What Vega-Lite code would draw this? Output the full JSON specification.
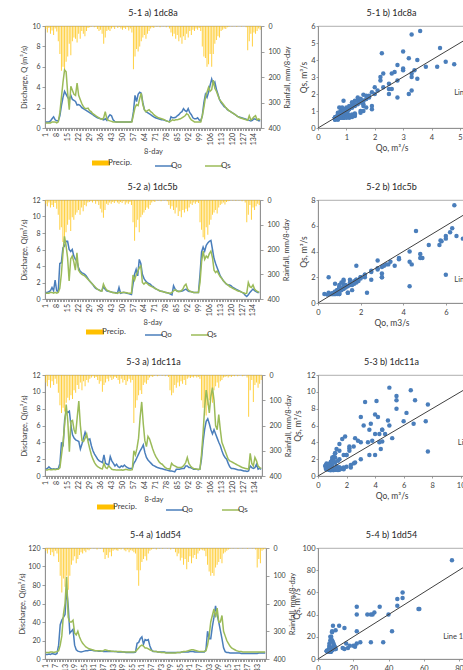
{
"$schema":"https://vega.github.io/schema/vega-lite/v6.json",
"background":"white",
"padding":{"left":17,"top":8,"right":0,"bottom":0},
"datasets":{
"d1":[{"t":1,"P":12,"Qo":0.6,"Qs":0.5},{"t":2,"P":25,"Qo":0.6,"Qs":0.5},{"t":3,"P":8,"Qo":0.6,"Qs":0.5},{"t":4,"P":30,"Qo":0.7,"Qs":0.5},{"t":5,"P":18,"Qo":0.9,"Qs":0.6},{"t":6,"P":35,"Qo":1.1,"Qs":0.6},{"t":7,"P":10,"Qo":0.8,"Qs":0.6},{"t":8,"P":22,"Qo":0.7,"Qs":0.5},{"t":9,"P":60,"Qo":0.7,"Qs":0.6},{"t":10,"P":110,"Qo":1.2,"Qs":1.5},{"t":11,"P":175,"Qo":2.2,"Qs":3.0},{"t":12,"P":160,"Qo":3.0,"Qs":4.5},{"t":13,"P":170,"Qo":3.6,"Qs":5.7},{"t":14,"P":140,"Qo":3.3,"Qs":5.5},{"t":15,"P":120,"Qo":3.0,"Qs":3.4},{"t":16,"P":70,"Qo":2.8,"Qs":1.8},{"t":17,"P":115,"Qo":3.2,"Qs":4.1},{"t":18,"P":60,"Qo":2.8,"Qs":3.7},{"t":19,"P":45,"Qo":2.7,"Qs":3.3},{"t":20,"P":50,"Qo":2.6,"Qs":3.2},{"t":21,"P":65,"Qo":2.25,"Qs":4.4},{"t":22,"P":30,"Qo":2.3,"Qs":3.2},{"t":23,"P":50,"Qo":2.2,"Qs":2.8},{"t":24,"P":20,"Qo":2.0,"Qs":2.4},{"t":25,"P":30,"Qo":1.9,"Qs":2.1},{"t":26,"P":40,"Qo":1.8,"Qs":1.9},{"t":27,"P":20,"Qo":1.7,"Qs":1.9},{"t":28,"P":8,"Qo":1.6,"Qs":1.95},{"t":29,"P":5,"Qo":1.5,"Qs":1.7},{"t":30,"P":3,"Qo":1.4,"Qs":1.6},{"t":31,"P":0,"Qo":1.3,"Qs":1.4},{"t":32,"P":5,"Qo":1.2,"Qs":1.3},{"t":33,"P":2,"Qo":1.1,"Qs":1.2},{"t":34,"P":12,"Qo":1.0,"Qs":1.1},{"t":35,"P":20,"Qo":0.95,"Qs":1.0},{"t":36,"P":15,"Qo":0.9,"Qs":0.9},{"t":37,"P":30,"Qo":0.85,"Qs":0.85},{"t":38,"P":70,"Qo":0.8,"Qs":1.0},{"t":39,"P":45,"Qo":0.9,"Qs":1.6},{"t":40,"P":20,"Qo":0.75,"Qs":0.9},{"t":41,"P":15,"Qo":1.1,"Qs":0.75},{"t":42,"P":20,"Qo":1.3,"Qs":0.7},{"t":43,"P":10,"Qo":1.2,"Qs":0.65},{"t":44,"P":5,"Qo":0.8,"Qs":0.6},{"t":45,"P":12,"Qo":0.65,"Qs":0.6},{"t":46,"P":0,"Qo":0.6,"Qs":0.6},{"t":47,"P":8,"Qo":0.6,"Qs":0.6},{"t":48,"P":3,"Qo":0.6,"Qs":0.6},{"t":49,"P":10,"Qo":0.6,"Qs":0.6},{"t":50,"P":15,"Qo":0.6,"Qs":0.6},{"t":51,"P":8,"Qo":0.6,"Qs":0.6},{"t":52,"P":12,"Qo":0.6,"Qs":0.6},{"t":53,"P":5,"Qo":0.6,"Qs":0.6},{"t":54,"P":18,"Qo":0.6,"Qs":0.6},{"t":55,"P":10,"Qo":0.6,"Qs":0.6},{"t":56,"P":25,"Qo":0.65,"Qs":0.6},{"t":57,"P":170,"Qo":1.6,"Qs":1.3},{"t":58,"P":120,"Qo":3.2,"Qs":2.0},{"t":59,"P":90,"Qo":2.6,"Qs":2.3},{"t":60,"P":100,"Qo":3.3,"Qs":2.2},{"t":61,"P":80,"Qo":3.5,"Qs":2.9},{"t":62,"P":60,"Qo":3.4,"Qs":3.4},{"t":63,"P":45,"Qo":2.5,"Qs":2.3},{"t":64,"P":35,"Qo":1.8,"Qs":1.8},{"t":65,"P":50,"Qo":1.6,"Qs":1.6},{"t":66,"P":30,"Qo":1.5,"Qs":1.7},{"t":67,"P":20,"Qo":1.4,"Qs":1.8},{"t":68,"P":10,"Qo":1.3,"Qs":1.6},{"t":69,"P":5,"Qo":1.2,"Qs":1.5},{"t":70,"P":8,"Qo":1.1,"Qs":1.3},{"t":71,"P":0,"Qo":1.0,"Qs":1.2},{"t":72,"P":3,"Qo":0.95,"Qs":1.1},{"t":73,"P":0,"Qo":0.9,"Qs":1.0},{"t":74,"P":5,"Qo":0.85,"Qs":0.95},{"t":75,"P":0,"Qo":0.8,"Qs":0.9},{"t":76,"P":2,"Qo":0.8,"Qs":0.85},{"t":77,"P":0,"Qo":0.75,"Qs":0.8},{"t":78,"P":5,"Qo":0.7,"Qs":0.7},{"t":79,"P":0,"Qo":0.65,"Qs":0.65},{"t":80,"P":10,"Qo":0.6,"Qs":0.6},{"t":81,"P":25,"Qo":1.1,"Qs":0.7},{"t":82,"P":40,"Qo":1.0,"Qs":0.8},{"t":83,"P":30,"Qo":1.0,"Qs":0.75},{"t":84,"P":50,"Qo":1.05,"Qs":0.8},{"t":85,"P":35,"Qo":1.2,"Qs":0.8},{"t":86,"P":60,"Qo":1.3,"Qs":0.85},{"t":87,"P":45,"Qo":1.5,"Qs":0.9},{"t":88,"P":70,"Qo":1.6,"Qs":1.0},{"t":89,"P":40,"Qo":1.9,"Qs":1.1},{"t":90,"P":55,"Qo":1.7,"Qs":1.2},{"t":91,"P":30,"Qo":1.6,"Qs":1.4},{"t":92,"P":45,"Qo":1.9,"Qs":1.3},{"t":93,"P":20,"Qo":1.5,"Qs":1.0},{"t":94,"P":35,"Qo":1.3,"Qs":0.8},{"t":95,"P":15,"Qo":1.0,"Qs":0.7},{"t":96,"P":20,"Qo":0.9,"Qs":0.6},{"t":97,"P":10,"Qo":0.9,"Qs":0.6},{"t":98,"P":15,"Qo":1.0,"Qs":0.6},{"t":99,"P":8,"Qo":0.8,"Qs":0.6},{"t":100,"P":20,"Qo":0.7,"Qs":0.6},{"t":101,"P":80,"Qo":1.2,"Qs":1.2},{"t":102,"P":120,"Qo":2.5,"Qs":2.0},{"t":103,"P":125,"Qo":3.3,"Qs":3.0},{"t":104,"P":160,"Qo":3.0,"Qs":3.5},{"t":105,"P":150,"Qo":3.5,"Qs":4.0},{"t":106,"P":110,"Qo":4.2,"Qs":3.6},{"t":107,"P":160,"Qo":4.8,"Qs":3.75},{"t":108,"P":110,"Qo":4.3,"Qs":4.7},{"t":109,"P":70,"Qo":4.5,"Qs":3.9},{"t":110,"P":55,"Qo":3.8,"Qs":3.6},{"t":111,"P":40,"Qo":3.3,"Qs":3.2},{"t":112,"P":45,"Qo":2.8,"Qs":2.8},{"t":113,"P":20,"Qo":2.5,"Qs":2.6},{"t":114,"P":15,"Qo":2.3,"Qs":2.4},{"t":115,"P":10,"Qo":2.1,"Qs":2.2},{"t":116,"P":12,"Qo":2.0,"Qs":2.0},{"t":117,"P":5,"Qo":1.8,"Qs":1.85},{"t":118,"P":3,"Qo":1.7,"Qs":1.7},{"t":119,"P":0,"Qo":1.6,"Qs":1.6},{"t":120,"P":2,"Qo":1.5,"Qs":1.5},{"t":121,"P":0,"Qo":1.4,"Qs":1.4},{"t":122,"P":0,"Qo":1.3,"Qs":1.3},{"t":123,"P":3,"Qo":1.2,"Qs":1.2},{"t":124,"P":0,"Qo":1.1,"Qs":1.1},{"t":125,"P":0,"Qo":1.05,"Qs":1.0},{"t":126,"P":2,"Qo":1.0,"Qs":0.95},{"t":127,"P":0,"Qo":0.95,"Qs":0.9},{"t":128,"P":0,"Qo":0.9,"Qs":0.85},{"t":129,"P":5,"Qo":0.85,"Qs":0.8},{"t":130,"P":95,"Qo":0.8,"Qs":0.75},{"t":131,"P":60,"Qo":0.75,"Qs":1.2},{"t":132,"P":30,"Qo":0.7,"Qs":0.8},{"t":133,"P":80,"Qo":0.75,"Qs":0.9},{"t":134,"P":25,"Qo":0.9,"Qs":1.1},{"t":135,"P":30,"Qo":0.85,"Qs":1.2},{"t":136,"P":20,"Qo":0.8,"Qs":0.8},{"t":137,"P":10,"Qo":0.7,"Qs":0.9},{"t":138,"P":15,"Qo":0.7,"Qs":0.8}],
"d2":[{"t":1,"P":15,"Qo":0.8,"Qs":0.7},{"t":2,"P":25,"Qo":0.8,"Qs":0.7},{"t":3,"P":10,"Qo":0.9,"Qs":0.7},{"t":4,"P":30,"Qo":1.0,"Qs":0.8},{"t":5,"P":20,"Qo":1.4,"Qs":0.8},{"t":6,"P":28,"Qo":1.0,"Qs":0.7},{"t":7,"P":12,"Qo":2.3,"Qs":0.8},{"t":8,"P":35,"Qo":1.0,"Qs":0.7},{"t":9,"P":60,"Qo":0.9,"Qs":0.8},{"t":10,"P":120,"Qo":4.3,"Qs":1.3},{"t":11,"P":110,"Qo":4.4,"Qs":3.0},{"t":12,"P":170,"Qo":6.2,"Qs":5.5},{"t":13,"P":160,"Qo":6.4,"Qs":7.6},{"t":14,"P":130,"Qo":7.0,"Qs":6.5},{"t":15,"P":100,"Qo":7.0,"Qs":5.0},{"t":16,"P":80,"Qo":6.0,"Qs":2.2},{"t":17,"P":125,"Qo":5.75,"Qs":4.85},{"t":18,"P":70,"Qo":6.0,"Qs":5.2},{"t":19,"P":80,"Qo":5.2,"Qs":4.5},{"t":20,"P":60,"Qo":4.8,"Qs":3.5},{"t":21,"P":50,"Qo":4.6,"Qs":5.6},{"t":22,"P":40,"Qo":3.8,"Qs":3.5},{"t":23,"P":60,"Qo":3.4,"Qs":3.2},{"t":24,"P":30,"Qo":3.2,"Qs":3.0},{"t":25,"P":45,"Qo":3.1,"Qs":2.9},{"t":26,"P":20,"Qo":3.0,"Qs":2.8},{"t":27,"P":25,"Qo":2.8,"Qs":2.6},{"t":28,"P":10,"Qo":2.5,"Qs":2.4},{"t":29,"P":8,"Qo":2.2,"Qs":2.2},{"t":30,"P":5,"Qo":2.0,"Qs":2.0},{"t":31,"P":10,"Qo":1.8,"Qs":1.8},{"t":32,"P":3,"Qo":1.5,"Qs":1.6},{"t":33,"P":15,"Qo":1.3,"Qs":1.4},{"t":34,"P":5,"Qo":1.2,"Qs":1.2},{"t":35,"P":20,"Qo":1.1,"Qs":1.1},{"t":36,"P":35,"Qo":1.0,"Qs":1.0},{"t":37,"P":50,"Qo":1.0,"Qs":0.95},{"t":38,"P":72,"Qo":1.5,"Qs":1.8},{"t":39,"P":40,"Qo":1.2,"Qs":1.4},{"t":40,"P":15,"Qo":1.0,"Qs":1.1},{"t":41,"P":20,"Qo":0.95,"Qs":1.0},{"t":42,"P":10,"Qo":0.9,"Qs":0.9},{"t":43,"P":15,"Qo":0.85,"Qs":0.85},{"t":44,"P":8,"Qo":0.8,"Qs":0.8},{"t":45,"P":12,"Qo":0.8,"Qs":0.75},{"t":46,"P":5,"Qo":0.75,"Qs":0.7},{"t":47,"P":10,"Qo":0.7,"Qs":0.7},{"t":48,"P":15,"Qo":1.4,"Qs":0.8},{"t":49,"P":8,"Qo":0.7,"Qs":0.75},{"t":50,"P":12,"Qo":0.75,"Qs":0.8},{"t":51,"P":5,"Qo":0.8,"Qs":0.8},{"t":52,"P":18,"Qo":0.75,"Qs":0.8},{"t":53,"P":10,"Qo":0.7,"Qs":0.75},{"t":54,"P":15,"Qo":0.65,"Qs":0.7},{"t":55,"P":8,"Qo":0.6,"Qs":0.7},{"t":56,"P":20,"Qo":0.55,"Qs":0.7},{"t":57,"P":90,"Qo":1.8,"Qs":2.9},{"t":58,"P":165,"Qo":3.0,"Qs":2.3},{"t":59,"P":110,"Qo":3.6,"Qs":2.9},{"t":60,"P":80,"Qo":2.8,"Qs":3.3},{"t":61,"P":130,"Qo":4.8,"Qs":3.8},{"t":62,"P":70,"Qo":4.3,"Qs":4.0},{"t":63,"P":60,"Qo":3.0,"Qs":2.0},{"t":64,"P":50,"Qo":2.5,"Qs":1.8},{"t":65,"P":40,"Qo":2.2,"Qs":2.0},{"t":66,"P":30,"Qo":2.0,"Qs":1.9},{"t":67,"P":35,"Qo":1.9,"Qs":1.7},{"t":68,"P":20,"Qo":1.8,"Qs":1.6},{"t":69,"P":10,"Qo":1.6,"Qs":1.5},{"t":70,"P":5,"Qo":1.5,"Qs":1.4},{"t":71,"P":8,"Qo":1.3,"Qs":1.3},{"t":72,"P":0,"Qo":1.2,"Qs":1.2},{"t":73,"P":3,"Qo":1.1,"Qs":1.1},{"t":74,"P":0,"Qo":1.0,"Qs":1.0},{"t":75,"P":5,"Qo":0.95,"Qs":0.95},{"t":76,"P":0,"Qo":0.9,"Qs":0.9},{"t":77,"P":2,"Qo":0.85,"Qs":0.85},{"t":78,"P":0,"Qo":0.8,"Qs":0.8},{"t":79,"P":5,"Qo":0.75,"Qs":0.75},{"t":80,"P":20,"Qo":0.7,"Qs":0.7},{"t":81,"P":35,"Qo":0.6,"Qs":0.7},{"t":82,"P":25,"Qo":0.5,"Qs":0.8},{"t":83,"P":40,"Qo":1.6,"Qs":1.0},{"t":84,"P":55,"Qo":1.2,"Qs":1.1},{"t":85,"P":30,"Qo":1.0,"Qs":1.0},{"t":86,"P":65,"Qo":0.95,"Qs":0.9},{"t":87,"P":45,"Qo":0.9,"Qs":0.95},{"t":88,"P":70,"Qo":0.95,"Qs":1.0},{"t":89,"P":40,"Qo":1.0,"Qs":1.2},{"t":90,"P":50,"Qo":1.1,"Qs":1.6},{"t":91,"P":35,"Qo":1.2,"Qs":1.8},{"t":92,"P":45,"Qo":1.0,"Qs":1.2},{"t":93,"P":30,"Qo":0.9,"Qs":1.0},{"t":94,"P":15,"Qo":0.9,"Qs":0.9},{"t":95,"P":20,"Qo":0.85,"Qs":0.85},{"t":96,"P":10,"Qo":0.8,"Qs":0.8},{"t":97,"P":15,"Qo":0.8,"Qs":0.8},{"t":98,"P":8,"Qo":0.8,"Qs":0.8},{"t":99,"P":12,"Qo":0.8,"Qs":0.8},{"t":100,"P":90,"Qo":3.0,"Qs":2.0},{"t":101,"P":120,"Qo":5.7,"Qs":4.5},{"t":102,"P":150,"Qo":6.3,"Qs":5.8},{"t":103,"P":160,"Qo":5.8,"Qs":4.8},{"t":104,"P":110,"Qo":6.5,"Qs":5.2},{"t":105,"P":140,"Qo":6.8,"Qs":5.0},{"t":106,"P":100,"Qo":7.0,"Qs":5.5},{"t":107,"P":80,"Qo":7.1,"Qs":5.8},{"t":108,"P":60,"Qo":6.0,"Qs":5.0},{"t":109,"P":50,"Qo":4.9,"Qs":3.5},{"t":110,"P":40,"Qo":4.3,"Qs":3.2},{"t":111,"P":55,"Qo":3.8,"Qs":3.4},{"t":112,"P":30,"Qo":3.3,"Qs":3.0},{"t":113,"P":20,"Qo":2.8,"Qs":2.7},{"t":114,"P":15,"Qo":2.5,"Qs":2.5},{"t":115,"P":10,"Qo":2.2,"Qs":2.2},{"t":116,"P":18,"Qo":2.0,"Qs":2.0},{"t":117,"P":8,"Qo":1.8,"Qs":1.8},{"t":118,"P":5,"Qo":1.7,"Qs":1.7},{"t":119,"P":3,"Qo":1.7,"Qs":1.5},{"t":120,"P":0,"Qo":1.6,"Qs":1.4},{"t":121,"P":2,"Qo":1.4,"Qs":1.3},{"t":122,"P":0,"Qo":1.3,"Qs":1.2},{"t":123,"P":3,"Qo":1.2,"Qs":1.1},{"t":124,"P":0,"Qo":1.1,"Qs":1.0},{"t":125,"P":2,"Qo":1.0,"Qs":0.95},{"t":126,"P":0,"Qo":0.9,"Qs":0.9},{"t":127,"P":5,"Qo":0.8,"Qs":0.8},{"t":128,"P":0,"Qo":0.7,"Qs":0.75},{"t":129,"P":10,"Qo":0.45,"Qs":0.65},{"t":130,"P":90,"Qo":0.3,"Qs":0.7},{"t":131,"P":60,"Qo":0.5,"Qs":2.0},{"t":132,"P":20,"Qo":0.8,"Qs":1.5},{"t":133,"P":80,"Qo":1.0,"Qs":1.4},{"t":134,"P":30,"Qo":1.2,"Qs":1.7},{"t":135,"P":40,"Qo":1.0,"Qs":1.2},{"t":136,"P":25,"Qo":0.9,"Qs":1.0},{"t":137,"P":15,"Qo":0.8,"Qs":0.9},{"t":138,"P":20,"Qo":0.8,"Qs":0.8}],
"d3":[{"t":1,"P":30,"Qo":0.8,"Qs":0.7},{"t":2,"P":45,"Qo":0.9,"Qs":0.7},{"t":3,"P":20,"Qo":1.1,"Qs":0.8},{"t":4,"P":50,"Qo":0.9,"Qs":0.75},{"t":5,"P":25,"Qo":0.8,"Qs":0.75},{"t":6,"P":40,"Qo":0.85,"Qs":0.8},{"t":7,"P":15,"Qo":0.8,"Qs":0.75},{"t":8,"P":35,"Qo":0.85,"Qs":0.8},{"t":9,"P":70,"Qo":0.9,"Qs":0.8},{"t":10,"P":120,"Qo":1.5,"Qs":1.0},{"t":11,"P":150,"Qo":4.0,"Qs":2.5},{"t":12,"P":130,"Qo":3.5,"Qs":4.0},{"t":13,"P":145,"Qo":6.7,"Qs":6.2},{"t":14,"P":110,"Qo":7.7,"Qs":8.5},{"t":15,"P":90,"Qo":7.55,"Qs":6.5},{"t":16,"P":100,"Qo":7.7,"Qs":2.9},{"t":17,"P":80,"Qo":6.0,"Qs":6.5},{"t":18,"P":95,"Qo":4.9,"Qs":6.6},{"t":19,"P":60,"Qo":4.5,"Qs":5.5},{"t":20,"P":70,"Qo":4.3,"Qs":5.0},{"t":21,"P":40,"Qo":4.2,"Qs":7.0},{"t":22,"P":55,"Qo":4.1,"Qs":8.9},{"t":23,"P":30,"Qo":3.2,"Qs":6.0},{"t":24,"P":60,"Qo":3.8,"Qs":4.2},{"t":25,"P":25,"Qo":4.5,"Qs":4.1},{"t":26,"P":45,"Qo":5.2,"Qs":4.5},{"t":27,"P":20,"Qo":4.7,"Qs":5.0},{"t":28,"P":30,"Qo":4.3,"Qs":4.0},{"t":29,"P":15,"Qo":4.4,"Qs":3.2},{"t":30,"P":10,"Qo":3.6,"Qs":2.5},{"t":31,"P":5,"Qo":3.0,"Qs":2.0},{"t":32,"P":12,"Qo":2.6,"Qs":1.6},{"t":33,"P":8,"Qo":2.3,"Qs":1.3},{"t":34,"P":20,"Qo":2.0,"Qs":1.1},{"t":35,"P":35,"Qo":1.8,"Qs":1.0},{"t":36,"P":25,"Qo":1.7,"Qs":0.9},{"t":37,"P":66,"Qo":1.6,"Qs":0.85},{"t":38,"P":40,"Qo":2.5,"Qs":1.5},{"t":39,"P":30,"Qo":1.5,"Qs":1.0},{"t":40,"P":15,"Qo":1.4,"Qs":0.9},{"t":41,"P":25,"Qo":1.3,"Qs":1.2},{"t":42,"P":10,"Qo":2.3,"Qs":1.0},{"t":43,"P":20,"Qo":1.8,"Qs":0.8},{"t":44,"P":15,"Qo":1.5,"Qs":0.75},{"t":45,"P":8,"Qo":1.2,"Qs":0.75},{"t":46,"P":12,"Qo":1.4,"Qs":0.7},{"t":47,"P":20,"Qo":1.1,"Qs":0.7},{"t":48,"P":35,"Qo":1.0,"Qs":0.7},{"t":49,"P":15,"Qo":1.2,"Qs":0.75},{"t":50,"P":30,"Qo":1.1,"Qs":0.7},{"t":51,"P":20,"Qo":1.3,"Qs":0.75},{"t":52,"P":40,"Qo":1.1,"Qs":0.8},{"t":53,"P":25,"Qo":1.0,"Qs":0.75},{"t":54,"P":15,"Qo":0.9,"Qs":0.7},{"t":55,"P":30,"Qo":0.9,"Qs":0.7},{"t":56,"P":20,"Qo":0.9,"Qs":0.75},{"t":57,"P":190,"Qo":1.5,"Qs":3.0},{"t":58,"P":130,"Qo":1.8,"Qs":2.5},{"t":59,"P":100,"Qo":2.2,"Qs":3.3},{"t":60,"P":80,"Qo":2.6,"Qs":4.5},{"t":61,"P":60,"Qo":3.0,"Qs":7.0},{"t":62,"P":75,"Qo":3.3,"Qs":8.8},{"t":63,"P":40,"Qo":3.7,"Qs":6.2},{"t":64,"P":30,"Qo":2.8,"Qs":4.2},{"t":65,"P":35,"Qo":2.2,"Qs":3.5},{"t":66,"P":20,"Qo":1.9,"Qs":4.7},{"t":67,"P":10,"Qo":1.7,"Qs":4.4},{"t":68,"P":5,"Qo":1.5,"Qs":3.8},{"t":69,"P":8,"Qo":1.3,"Qs":3.2},{"t":70,"P":3,"Qo":1.2,"Qs":2.7},{"t":71,"P":0,"Qo":1.1,"Qs":2.3},{"t":72,"P":5,"Qo":1.0,"Qs":2.0},{"t":73,"P":2,"Qo":0.95,"Qs":1.7},{"t":74,"P":0,"Qo":0.9,"Qs":1.5},{"t":75,"P":3,"Qo":0.85,"Qs":1.4},{"t":76,"P":0,"Qo":0.8,"Qs":1.2},{"t":77,"P":5,"Qo":0.75,"Qs":1.0},{"t":78,"P":0,"Qo":0.7,"Qs":0.9},{"t":79,"P":8,"Qo":0.65,"Qs":0.85},{"t":80,"P":60,"Qo":0.6,"Qs":0.8},{"t":81,"P":80,"Qo":0.6,"Qs":1.5},{"t":82,"P":70,"Qo":0.55,"Qs":1.3},{"t":83,"P":40,"Qo":0.5,"Qs":1.2},{"t":84,"P":50,"Qo":0.8,"Qs":1.1},{"t":85,"P":30,"Qo":0.8,"Qs":1.0},{"t":86,"P":45,"Qo":0.8,"Qs":1.0},{"t":87,"P":25,"Qo":0.85,"Qs":1.0},{"t":88,"P":35,"Qo":0.9,"Qs":1.1},{"t":89,"P":20,"Qo":0.9,"Qs":1.3},{"t":90,"P":40,"Qo":1.2,"Qs":1.6},{"t":91,"P":15,"Qo":1.2,"Qs":2.2},{"t":92,"P":10,"Qo":1.0,"Qs":1.5},{"t":93,"P":12,"Qo":1.0,"Qs":1.2},{"t":94,"P":8,"Qo":0.9,"Qs":1.0},{"t":95,"P":10,"Qo":0.8,"Qs":0.9},{"t":96,"P":5,"Qo":0.8,"Qs":0.85},{"t":97,"P":10,"Qo":0.8,"Qs":0.8},{"t":98,"P":8,"Qo":0.75,"Qs":0.8},{"t":99,"P":15,"Qo":0.8,"Qs":0.8},{"t":100,"P":100,"Qo":2.0,"Qs":2.5},{"t":101,"P":130,"Qo":4.0,"Qs":5.0},{"t":102,"P":150,"Qo":5.5,"Qs":8.0},{"t":103,"P":160,"Qo":6.5,"Qs":10.2},{"t":104,"P":120,"Qo":6.8,"Qs":9.0},{"t":105,"P":100,"Qo":6.2,"Qs":7.5},{"t":106,"P":85,"Qo":5.5,"Qs":9.5},{"t":107,"P":110,"Qo":5.0,"Qs":10.5},{"t":108,"P":60,"Qo":5.5,"Qs":9.0},{"t":109,"P":45,"Qo":5.0,"Qs":6.0},{"t":110,"P":30,"Qo":4.5,"Qs":5.5},{"t":111,"P":50,"Qo":4.0,"Qs":7.3},{"t":112,"P":25,"Qo":3.6,"Qs":5.5},{"t":113,"P":20,"Qo":3.0,"Qs":4.0},{"t":114,"P":10,"Qo":2.5,"Qs":3.5},{"t":115,"P":8,"Qo":2.2,"Qs":3.0},{"t":116,"P":5,"Qo":2.0,"Qs":2.5},{"t":117,"P":10,"Qo":1.5,"Qs":2.0},{"t":118,"P":5,"Qo":1.1,"Qs":1.8},{"t":119,"P":8,"Qo":0.9,"Qs":1.7},{"t":120,"P":3,"Qo":0.9,"Qs":1.6},{"t":121,"P":5,"Qo":0.85,"Qs":1.5},{"t":122,"P":0,"Qo":0.8,"Qs":1.4},{"t":123,"P":5,"Qo":0.75,"Qs":1.3},{"t":124,"P":2,"Qo":0.7,"Qs":1.2},{"t":125,"P":0,"Qo":0.7,"Qs":1.1},{"t":126,"P":5,"Qo":0.65,"Qs":1.0},{"t":127,"P":3,"Qo":0.6,"Qs":0.95},{"t":128,"P":0,"Qo":0.6,"Qs":0.9},{"t":129,"P":10,"Qo":0.55,"Qs":0.85},{"t":130,"P":165,"Qo":0.6,"Qs":0.8},{"t":131,"P":60,"Qo":1.2,"Qs":2.7},{"t":132,"P":20,"Qo":1.0,"Qs":1.5},{"t":133,"P":107,"Qo":0.9,"Qs":1.2},{"t":134,"P":40,"Qo":1.0,"Qs":2.2},{"t":135,"P":30,"Qo":1.4,"Qs":1.8},{"t":136,"P":50,"Qo":0.8,"Qs":1.2},{"t":137,"P":35,"Qo":0.9,"Qs":1.0},{"t":138,"P":20,"Qo":0.8,"Qs":0.9}],
"d4":[{"t":1,"P":10,"Qo":5,"Qs":7},{"t":2,"P":20,"Qo":5,"Qs":7},{"t":3,"P":5,"Qo":5.5,"Qs":7},{"t":4,"P":25,"Qo":5,"Qs":7.5},{"t":5,"P":15,"Qo":6,"Qs":7.5},{"t":6,"P":30,"Qo":5.5,"Qs":7},{"t":7,"P":10,"Qo":5,"Qs":7.5},{"t":8,"P":20,"Qo":6,"Qs":8},{"t":9,"P":50,"Qo":15,"Qs":9},{"t":10,"P":100,"Qo":37,"Qs":15},{"t":11,"P":160,"Qo":42,"Qs":25},{"t":12,"P":110,"Qo":45,"Qs":48},{"t":13,"P":140,"Qo":48,"Qs":60},{"t":14,"P":100,"Qo":76,"Qs":89},{"t":15,"P":150,"Qo":57,"Qs":45},{"t":16,"P":100,"Qo":28,"Qs":40},{"t":17,"P":60,"Qo":30,"Qs":40},{"t":18,"P":45,"Qo":32,"Qs":42},{"t":19,"P":30,"Qo":15,"Qs":28},{"t":20,"P":55,"Qo":10,"Qs":26},{"t":21,"P":40,"Qo":8.5,"Qs":30},{"t":22,"P":25,"Qo":8,"Qs":24},{"t":23,"P":15,"Qo":7.5,"Qs":20},{"t":24,"P":20,"Qo":8,"Qs":17},{"t":25,"P":10,"Qo":8.5,"Qs":15},{"t":26,"P":15,"Qo":9,"Qs":13},{"t":27,"P":5,"Qo":9,"Qs":12},{"t":28,"P":8,"Qo":9.5,"Qs":11},{"t":29,"P":3,"Qo":9.5,"Qs":10.5},{"t":30,"P":0,"Qo":9.5,"Qs":10},{"t":31,"P":2,"Qo":9,"Qs":9.5},{"t":32,"P":0,"Qo":9,"Qs":9},{"t":33,"P":5,"Qo":9,"Qs":9},{"t":34,"P":0,"Qo":8.5,"Qs":9},{"t":35,"P":3,"Qo":8.5,"Qs":9},{"t":36,"P":0,"Qo":8.5,"Qs":8.5},{"t":37,"P":15,"Qo":8,"Qs":9},{"t":38,"P":40,"Qo":8,"Qs":10},{"t":39,"P":25,"Qo":8,"Qs":9.5},{"t":40,"P":35,"Qo":8,"Qs":9},{"t":41,"P":15,"Qo":8,"Qs":9},{"t":42,"P":30,"Qo":8,"Qs":8.5},{"t":43,"P":10,"Qo":8,"Qs":8.5},{"t":44,"P":5,"Qo":8,"Qs":8},{"t":45,"P":8,"Qo":8,"Qs":8},{"t":46,"P":10,"Qo":7.5,"Qs":8},{"t":47,"P":3,"Qo":7.5,"Qs":8},{"t":48,"P":5,"Qo":7.5,"Qs":8},{"t":49,"P":0,"Qo":7.5,"Qs":7.5},{"t":50,"P":8,"Qo":7.5,"Qs":7.5},{"t":51,"P":12,"Qo":7,"Qs":7.5},{"t":52,"P":5,"Qo":7,"Qs":7.5},{"t":53,"P":15,"Qo":7,"Qs":7.5},{"t":54,"P":8,"Qo":7,"Qs":7.5},{"t":55,"P":10,"Qo":7,"Qs":7.5},{"t":56,"P":15,"Qo":7,"Qs":7.5},{"t":57,"P":20,"Qo":7.5,"Qs":8},{"t":58,"P":80,"Qo":17,"Qs":10},{"t":59,"P":136,"Qo":18,"Qs":12},{"t":60,"P":80,"Qo":22,"Qs":14},{"t":61,"P":50,"Qo":24,"Qs":15},{"t":62,"P":40,"Qo":16,"Qs":14},{"t":63,"P":30,"Qo":21,"Qs":12},{"t":64,"P":45,"Qo":20,"Qs":12},{"t":65,"P":20,"Qo":21,"Qs":11},{"t":66,"P":10,"Qo":14,"Qs":10},{"t":67,"P":5,"Qo":10,"Qs":9},{"t":68,"P":3,"Qo":8,"Qs":8.5},{"t":69,"P":0,"Qo":8,"Qs":8},{"t":70,"P":5,"Qo":8,"Qs":8},{"t":71,"P":0,"Qo":7.5,"Qs":7.5},{"t":72,"P":2,"Qo":7.5,"Qs":7.5},{"t":73,"P":0,"Qo":7.5,"Qs":7},{"t":74,"P":3,"Qo":7.5,"Qs":7},{"t":75,"P":0,"Qo":7.5,"Qs":7},{"t":76,"P":0,"Qo":7,"Qs":6.5},{"t":77,"P":2,"Qo":7,"Qs":6.5},{"t":78,"P":0,"Qo":7,"Qs":6.5},{"t":79,"P":5,"Qo":7,"Qs":6.5},{"t":80,"P":0,"Qo":7,"Qs":6.5},{"t":81,"P":3,"Qo":7,"Qs":6.5},{"t":82,"P":15,"Qo":7,"Qs":6.5},{"t":83,"P":30,"Qo":7,"Qs":7},{"t":84,"P":20,"Qo":7,"Qs":7},{"t":85,"P":45,"Qo":7,"Qs":7},{"t":86,"P":35,"Qo":7.5,"Qs":7.5},{"t":87,"P":60,"Qo":7.5,"Qs":8},{"t":88,"P":40,"Qo":7.5,"Qs":8},{"t":89,"P":77,"Qo":7.5,"Qs":8.5},{"t":90,"P":50,"Qo":7.5,"Qs":9},{"t":91,"P":30,"Qo":8,"Qs":9.5},{"t":92,"P":55,"Qo":8,"Qs":10},{"t":93,"P":35,"Qo":8,"Qs":10},{"t":94,"P":25,"Qo":7.5,"Qs":9.5},{"t":95,"P":40,"Qo":7.5,"Qs":9},{"t":96,"P":20,"Qo":7.5,"Qs":8.5},{"t":97,"P":10,"Qo":7.5,"Qs":8},{"t":98,"P":5,"Qo":7.5,"Qs":8},{"t":99,"P":8,"Qo":7.5,"Qs":8},{"t":100,"P":10,"Qo":7.5,"Qs":8},{"t":101,"P":30,"Qo":10,"Qs":9},{"t":102,"P":60,"Qo":30,"Qs":15},{"t":103,"P":85,"Qo":22,"Qs":25},{"t":104,"P":100,"Qo":22,"Qs":40},{"t":105,"P":90,"Qo":35,"Qs":47},{"t":106,"P":100,"Qo":45,"Qs":54},{"t":107,"P":70,"Qo":57.5,"Qs":45},{"t":108,"P":60,"Qo":48,"Qs":55},{"t":109,"P":50,"Qo":40,"Qs":40},{"t":110,"P":40,"Qo":31,"Qs":40},{"t":111,"P":55,"Qo":22,"Qs":47},{"t":112,"P":20,"Qo":12,"Qs":30},{"t":113,"P":15,"Qo":8,"Qs":25},{"t":114,"P":10,"Qo":7,"Qs":20},{"t":115,"P":5,"Qo":7,"Qs":17},{"t":116,"P":3,"Qo":6.5,"Qs":14},{"t":117,"P":0,"Qo":6.5,"Qs":12},{"t":118,"P":2,"Qo":6.5,"Qs":11},{"t":119,"P":0,"Qo":6.5,"Qs":10},{"t":120,"P":0,"Qo":6.5,"Qs":9},{"t":121,"P":3,"Qo":6.5,"Qs":8.5},{"t":122,"P":0,"Qo":6.5,"Qs":8},{"t":123,"P":0,"Qo":6,"Qs":8},{"t":124,"P":2,"Qo":6,"Qs":7.5},{"t":125,"P":0,"Qo":6,"Qs":7.5},{"t":126,"P":0,"Qo":6,"Qs":7.5},{"t":127,"P":3,"Qo":6,"Qs":7.5},{"t":128,"P":0,"Qo":6,"Qs":7.5},{"t":129,"P":0,"Qo":6,"Qs":7.5},{"t":130,"P":2,"Qo":6,"Qs":7.5},{"t":131,"P":0,"Qo":6,"Qs":7.5},{"t":132,"P":5,"Qo":6,"Qs":7.5},{"t":133,"P":70,"Qo":6,"Qs":7.5},{"t":134,"P":40,"Qo":6.5,"Qs":7.5},{"t":135,"P":55,"Qo":6.5,"Qs":7.5},{"t":136,"P":10,"Qo":6.5,"Qs":7.5},{"t":137,"P":5,"Qo":6.5,"Qs":7.5},{"t":138,"P":3,"Qo":6.5,"Qs":7.5}]
},
"columns":2,
"spacing":{"row":72,"column":52},
"bounds":"flush",
"align":{"row":"each","column":"each"},
"resolve":{"scale":{"color":"independent"},"legend":{"color":"independent"}},
"concat":[
{"width":216,"height":102,"data":{"name":"d1"},"title":{"text":"5-1 a) 1dc8a"},
 "encoding":{"x":{"field":"t","type":"quantitative","scale":{"domain":[0.5,138.5],"nice":false,"zero":false,"padding":0},"axis":{"title":"8-day","tickCount":138,"labelAngle":-90,"tickSize":2.5,"labelExpr":"(datum.value - 1) % 7 === 0 ? datum.label : ''"}}},
 "layer":[
  {"mark":{"type":"bar","width":1,"opacity":0.75},
   "encoding":{"y":{"field":"P","type":"quantitative","scale":{"domain":[0,400],"reverse":true,"nice":false},"axis":{"orient":"right","values":[0,100,200,300,400],"title":"Rainfall, mm/8-day","titleAngle":-90,"titleBaseline":"top","labelPadding":4}},
    "color":{"datum":"Precip.","type":"nominal","scale":{"domain":["Precip.","Qo","Qs"],"range":["#FFC000","#4A7EBB","#9BBB59"]},"legend":{"title":null,"orient":"none","legendX":52,"legendY":133,"direction":"horizontal","symbolType":"stroke","symbolSize":324,"labelFontSize":8,"columnPadding":20,"labelOffset":3,"encode":{"symbols":{"update":{"fill":{"value":"transparent"},"opacity":{"value":1},"stroke":{"signal":"datum.value === 'Precip.' ? '#FFC000' : datum.value === 'Qo' ? '#4A7EBB' : '#9BBB59'"},"strokeWidth":{"signal":"datum.value === 'Precip.' ? 5 : 1.5"}}}}}}}},
  {"transform":[{"fold":["Qo","Qs"],"as":["series","q"]}],"mark":{"type":"line","strokeWidth":1.5},
   "encoding":{"y":{"field":"q","type":"quantitative","scale":{"domain":[0,10],"nice":false},"axis":{"values":[0,2,4,6,8,10],"title":"Discharge, Q (m³/s)","titleX":-17}},
    "color":{"field":"series","type":"nominal","scale":{"domain":["Precip.","Qo","Qs"],"range":["#FFC000","#4A7EBB","#9BBB59"]},"legend":{"title":null,"orient":"none","legendX":52,"legendY":133,"direction":"horizontal","symbolType":"stroke","symbolSize":324,"labelFontSize":8,"columnPadding":20,"labelOffset":3,"encode":{"symbols":{"update":{"fill":{"value":"transparent"},"opacity":{"value":1},"stroke":{"signal":"datum.value === 'Precip.' ? '#FFC000' : datum.value === 'Qo' ? '#4A7EBB' : '#9BBB59'"},"strokeWidth":{"signal":"datum.value === 'Precip.' ? 5 : 1.5"}}}}}}}}
 ],
 "resolve":{"scale":{"y":"independent"}}},
{"width":147,"height":102,"title":{"text":"5-1 b) 1dc8a"},
 "encoding":{"x":{"field":"Qo","type":"quantitative","scale":{"domain":[0,5.18],"nice":false,"padding":0},"axis":{"values":[0,1,2,3,4,5],"title":"Qo, m³/s","labelFontSize":7.5,"titleFontSize":8.5,"tickSize":2,"labelPadding":3}},
  "y":{"field":"Qs","type":"quantitative","scale":{"domain":[0,6],"nice":false,"padding":0},"axis":{"values":[0,1,2,3,4,5,6],"title":"Qs, m³/s","titleX":-10,"labelFontSize":7.5,"titleFontSize":8.5,"tickSize":2,"labelPadding":1}}},
 "layer":[
  {"data":{"name":"d1"},"mark":{"type":"circle","size":20,"color":"#4A7EBB","opacity":1,"clip":true}},
  {"data":{"values":[{"Qo":0,"Qs":0},{"Qo":5.18,"Qs":5.18}]},"mark":{"type":"line","color":"#404040","strokeWidth":1,"clip":true}},
  {"data":{"values":[{"Qo":4.8,"Qs":2.05,"label":"Line 1:1"}]},"mark":{"type":"text","align":"left","baseline":"middle","fontSize":7.5,"color":"#404040"},"encoding":{"text":{"field":"label"}}}
 ]},
{"width":215,"height":99,"data":{"name":"d2"},"title":{"text":"5-2 a) 1dc5b"},
 "encoding":{"x":{"field":"t","type":"quantitative","scale":{"domain":[0.5,138.5],"nice":false,"zero":false,"padding":0},"axis":{"title":"8-day","tickCount":138,"labelAngle":-90,"tickSize":2.5,"labelExpr":"(datum.value - 1) % 7 === 0 ? datum.label : ''"}}},
 "layer":[
  {"mark":{"type":"bar","width":1,"opacity":0.75},
   "encoding":{"y":{"field":"P","type":"quantitative","scale":{"domain":[0,400],"reverse":true,"nice":false},"axis":{"orient":"right","values":[0,100,200,300,400],"title":"Rainfall, mm/8-day","titleAngle":-90,"titleBaseline":"top","labelPadding":4}},
    "color":{"datum":"Precip.","type":"nominal","scale":{"domain":["Precip.","Qo","Qs"],"range":["#FFC000","#4A7EBB","#9BBB59"]},"legend":{"title":null,"orient":"none","legendX":46,"legendY":128,"direction":"horizontal","symbolType":"stroke","symbolSize":324,"labelFontSize":8,"columnPadding":16,"labelOffset":3,"encode":{"symbols":{"update":{"fill":{"value":"transparent"},"opacity":{"value":1},"stroke":{"signal":"datum.value === 'Precip.' ? '#FFC000' : datum.value === 'Qo' ? '#4A7EBB' : '#9BBB59'"},"strokeWidth":{"signal":"datum.value === 'Precip.' ? 5 : 1.5"}}}}}}}},
  {"transform":[{"fold":["Qo","Qs"],"as":["series","q"]}],"mark":{"type":"line","strokeWidth":1.5},
   "encoding":{"y":{"field":"q","type":"quantitative","scale":{"domain":[0,12],"nice":false},"axis":{"values":[0,2,4,6,8,10,12],"title":"Discharge, Q(m³/s)","titleX":-17}},
    "color":{"field":"series","type":"nominal","scale":{"domain":["Precip.","Qo","Qs"],"range":["#FFC000","#4A7EBB","#9BBB59"]},"legend":{"title":null,"orient":"none","legendX":46,"legendY":128,"direction":"horizontal","symbolType":"stroke","symbolSize":324,"labelFontSize":8,"columnPadding":16,"labelOffset":3,"encode":{"symbols":{"update":{"fill":{"value":"transparent"},"opacity":{"value":1},"stroke":{"signal":"datum.value === 'Precip.' ? '#FFC000' : datum.value === 'Qo' ? '#4A7EBB' : '#9BBB59'"},"strokeWidth":{"signal":"datum.value === 'Precip.' ? 5 : 1.5"}}}}}}}}
 ],
 "resolve":{"scale":{"y":"independent"}}},
{"width":147,"height":103,"title":{"text":"5-2 b) 1dc5b"},
 "encoding":{"x":{"field":"Qo","type":"quantitative","scale":{"domain":[0,6.9],"nice":false,"padding":0},"axis":{"values":[0,2,4,6],"title":"Qo, m3/s","labelFontSize":7.5,"titleFontSize":8.5,"tickSize":2,"labelPadding":3}},
  "y":{"field":"Qs","type":"quantitative","scale":{"domain":[0,8],"nice":false,"padding":0},"axis":{"values":[0,2,4,6,8],"title":"Qs, m³/s","titleX":-10,"labelFontSize":7.5,"titleFontSize":8.5,"tickSize":2,"labelPadding":1}}},
 "layer":[
  {"data":{"name":"d2"},"mark":{"type":"circle","size":20,"color":"#4A7EBB","opacity":1,"clip":true}},
  {"data":{"values":[{"Qo":0,"Qs":0},{"Qo":6.9,"Qs":6.9}]},"mark":{"type":"line","color":"#404040","strokeWidth":1,"clip":true}},
  {"data":{"values":[{"Qo":6.4,"Qs":1.8,"label":"Line 1:1"}]},"mark":{"type":"text","align":"left","baseline":"middle","fontSize":7.5,"color":"#404040"},"encoding":{"text":{"field":"label"}}}
 ]},
{"width":217,"height":101,"data":{"name":"d3"},"title":{"text":"5-3 a) 1dc11a"},
 "encoding":{"x":{"field":"t","type":"quantitative","scale":{"domain":[0.5,138.5],"nice":false,"zero":false,"padding":0},"axis":{"title":"8-day","tickCount":138,"labelAngle":-90,"tickSize":2.5,"labelExpr":"(datum.value - 1) % 7 === 0 ? datum.label : ''"}}},
 "layer":[
  {"mark":{"type":"bar","width":1,"opacity":0.75},
   "encoding":{"y":{"field":"P","type":"quantitative","scale":{"domain":[0,400],"reverse":true,"nice":false},"axis":{"orient":"right","values":[0,100,200,300,400],"title":"Rainfall, mm/8-day","titleAngle":-90,"titleBaseline":"top","labelPadding":4}},
    "color":{"datum":"Precip.","type":"nominal","scale":{"domain":["Precip.","Qo","Qs"],"range":["#FFC000","#4A7EBB","#9BBB59"]},"legend":{"title":null,"orient":"none","legendX":57,"legendY":128,"direction":"horizontal","symbolType":"stroke","symbolSize":324,"labelFontSize":8,"columnPadding":26,"labelOffset":3,"encode":{"symbols":{"update":{"fill":{"value":"transparent"},"opacity":{"value":1},"stroke":{"signal":"datum.value === 'Precip.' ? '#FFC000' : datum.value === 'Qo' ? '#4A7EBB' : '#9BBB59'"},"strokeWidth":{"signal":"datum.value === 'Precip.' ? 5 : 1.5"}}}}}}}},
  {"transform":[{"fold":["Qo","Qs"],"as":["series","q"]}],"mark":{"type":"line","strokeWidth":1.5},
   "encoding":{"y":{"field":"q","type":"quantitative","scale":{"domain":[0,12],"nice":false},"axis":{"values":[0,2,4,6,8,10,12],"title":"Discharge, Q(m³/s)","titleX":-17}},
    "color":{"field":"series","type":"nominal","scale":{"domain":["Precip.","Qo","Qs"],"range":["#FFC000","#4A7EBB","#9BBB59"]},"legend":{"title":null,"orient":"none","legendX":57,"legendY":128,"direction":"horizontal","symbolType":"stroke","symbolSize":324,"labelFontSize":8,"columnPadding":26,"labelOffset":3,"encode":{"symbols":{"update":{"fill":{"value":"transparent"},"opacity":{"value":1},"stroke":{"signal":"datum.value === 'Precip.' ? '#FFC000' : datum.value === 'Qo' ? '#4A7EBB' : '#9BBB59'"},"strokeWidth":{"signal":"datum.value === 'Precip.' ? 5 : 1.5"}}}}}}}}
 ],
 "resolve":{"scale":{"y":"independent"}}},
{"width":147,"height":101,"title":{"text":"5-3 b) 1dc11a"},
 "encoding":{"x":{"field":"Qo","type":"quantitative","scale":{"domain":[0,10.3],"nice":false,"padding":0},"axis":{"values":[0,2,4,6,8,10],"title":"Qo, m³/s","labelFontSize":7.5,"titleFontSize":8.5,"tickSize":2,"labelPadding":3}},
  "y":{"field":"Qs","type":"quantitative","scale":{"domain":[0,12],"nice":false,"padding":0},"axis":{"values":[0,2,4,6,8,10,12],"title":"Qs, m³/s","titleX":-16,"labelFontSize":7.5,"titleFontSize":8.5,"tickSize":2,"labelPadding":1}}},
 "layer":[
  {"data":{"name":"d3"},"mark":{"type":"circle","size":20,"color":"#4A7EBB","opacity":1,"clip":true}},
  {"data":{"values":[{"Qo":0,"Qs":0},{"Qo":10.3,"Qs":10.3}]},"mark":{"type":"line","color":"#404040","strokeWidth":1,"clip":true}},
  {"data":{"values":[{"Qo":9.8,"Qs":3.9,"label":"Line 1:1"}]},"mark":{"type":"text","align":"left","baseline":"middle","fontSize":7.5,"color":"#404040"},"encoding":{"text":{"field":"label"}}}
 ]},
{"width":221,"height":111,"data":{"name":"d4"},"title":{"text":"5-4 a) 1dd54"},
 "encoding":{"x":{"field":"t","type":"quantitative","scale":{"domain":[0.5,138.5],"nice":false,"zero":false,"padding":0},"axis":{"title":"8-day","tickCount":138,"labelAngle":-90,"tickSize":2.5,"labelExpr":"(datum.value - 1) % 6 === 0 ? datum.label : ''"}}},
 "layer":[
  {"mark":{"type":"bar","width":1,"opacity":0.75},
   "encoding":{"y":{"field":"P","type":"quantitative","scale":{"domain":[0,400],"reverse":true,"nice":false},"axis":{"orient":"right","values":[0,100,200,300,400],"title":"Rainfall, mm/8-day","titleAngle":-90,"titleBaseline":"top","labelPadding":4}},
    "color":{"datum":"Precip.","type":"nominal","scale":{"domain":["Precip.","Qo","Qs"],"range":["#FFC000","#4A7EBB","#9BBB59"]},"legend":{"title":null,"orient":"none","legendX":53,"legendY":140,"direction":"horizontal","symbolType":"stroke","symbolSize":324,"labelFontSize":8,"columnPadding":20,"labelOffset":3,"encode":{"symbols":{"update":{"fill":{"value":"transparent"},"opacity":{"value":1},"stroke":{"signal":"datum.value === 'Precip.' ? '#FFC000' : datum.value === 'Qo' ? '#4A7EBB' : '#9BBB59'"},"strokeWidth":{"signal":"datum.value === 'Precip.' ? 5 : 1.5"}}}}}}}},
  {"transform":[{"fold":["Qo","Qs"],"as":["series","q"]}],"mark":{"type":"line","strokeWidth":1.5},
   "encoding":{"y":{"field":"q","type":"quantitative","scale":{"domain":[0,120],"nice":false},"axis":{"values":[0,20,40,60,80,100,120],"title":"Discharge, Q(m³/s)","titleX":-19}},
    "color":{"field":"series","type":"nominal","scale":{"domain":["Precip.","Qo","Qs"],"range":["#FFC000","#4A7EBB","#9BBB59"]},"legend":{"title":null,"orient":"none","legendX":53,"legendY":140,"direction":"horizontal","symbolType":"stroke","symbolSize":324,"labelFontSize":8,"columnPadding":20,"labelOffset":3,"encode":{"symbols":{"update":{"fill":{"value":"transparent"},"opacity":{"value":1},"stroke":{"signal":"datum.value === 'Precip.' ? '#FFC000' : datum.value === 'Qo' ? '#4A7EBB' : '#9BBB59'"},"strokeWidth":{"signal":"datum.value === 'Precip.' ? 5 : 1.5"}}}}}}}}
 ],
 "resolve":{"scale":{"y":"independent"}}},
{"width":147,"height":111,"title":{"text":"5-4 b) 1dd54"},
 "encoding":{"x":{"field":"Qo","type":"quantitative","scale":{"domain":[0,83.4],"nice":false,"padding":0},"axis":{"values":[0,20,40,60,80],"title":"Qo, m³/s","labelFontSize":7.5,"titleFontSize":8.5,"tickSize":2,"labelPadding":3}},
  "y":{"field":"Qs","type":"quantitative","scale":{"domain":[0,100],"nice":false,"padding":0},"axis":{"values":[0,20,40,60,80,100],"title":"Qs, m³/s","titleX":-17,"labelFontSize":7.5,"titleFontSize":8.5,"tickSize":2,"labelPadding":1}}},
 "layer":[
  {"data":{"name":"d4"},"mark":{"type":"circle","size":20,"color":"#4A7EBB","opacity":1,"clip":true}},
  {"data":{"values":[{"Qo":0,"Qs":0},{"Qo":83.4,"Qs":83.4}]},"mark":{"type":"line","color":"#404040","strokeWidth":1,"clip":true}},
  {"data":{"values":[{"Qo":71,"Qs":20,"label":"Line 1:1"}]},"mark":{"type":"text","align":"left","baseline":"middle","fontSize":7.5,"color":"#404040"},"encoding":{"text":{"field":"label"}}}
 ]}
],
"config":{
 "font":"Lato",
 "view":{"stroke":"#9a9a9a","strokeWidth":0.8},
 "axis":{"grid":false,"domainColor":"#868686","tickColor":"#868686","domainWidth":0.8,"tickWidth":0.8,"labelColor":"#404040","titleColor":"#404040","labelFontSize":7,"titleFontSize":7.5,"titleFontWeight":"normal","tickSize":3,"labelPadding":2,"titlePadding":3,"labelOverlap":false,"labelBound":false,"labelFlush":false},
 "title":{"fontSize":9,"fontWeight":"normal","color":"#262626","offset":4},
 "legend":{"labelFontSize":8,"labelColor":"#404040","padding":0}
}
}
